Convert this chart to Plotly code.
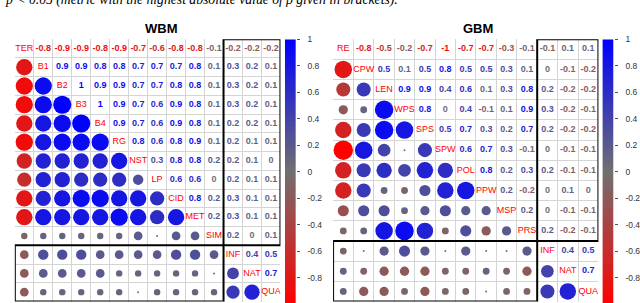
import numpy as np
import plotly.graph_objects as go
from plotly.colors import sample_colorscale

# ---------------- data ----------------
wbm_vars = ["TER", "B1", "B2", "B3", "B4", "RG", "NST", "LP", "CID", "MET", "SIM", "INF", "NAT", "QUA"]
wbm_upper = [
    [-0.8, -0.9, -0.9, -0.8, -0.9, -0.7, -0.6, -0.8, -0.8, -0.1, -0.2, -0.2, -0.2],
    [0.9, 0.9, 0.8, 0.8, 0.7, 0.7, 0.7, 0.8, 0.1, 0.3, 0.2, 0.1],
    [1, 0.9, 0.9, 0.7, 0.7, 0.8, 0.8, 0.1, 0.3, 0.2, 0.1],
    [1, 0.9, 0.7, 0.6, 0.9, 0.8, 0.1, 0.3, 0.2, 0.1],
    [0.9, 0.7, 0.6, 0.9, 0.8, 0.1, 0.2, 0.2, 0.1],
    [0.8, 0.6, 0.8, 0.9, 0.1, 0.2, 0.1, 0.1],
    [0.3, 0.8, 0.8, 0.2, 0.2, 0.1, 0],
    [0.6, 0.6, 0, 0.2, 0.1, 0.1],
    [0.8, 0.2, 0.3, 0.1, 0.1],
    [0.2, 0.3, 0.1, 0.1],
    [0.2, 0, 0.1],
    [0.4, 0.5],
    [0.7],
]

gbm_vars = ["RE", "CPW", "LEN", "WPS", "SPS", "SPW", "POL", "PPW", "MSP", "PRS", "INF", "NAT", "QUA"]
gbm_upper = [
    [-0.8, -0.5, -0.2, -0.7, -1, -0.7, -0.7, -0.3, -0.1, -0.1, 0.1, 0.1],
    [0.5, 0.1, 0.5, 0.8, 0.5, 0.5, 0.3, 0.1, 0, -0.1, -0.2],
    [0.9, 0.9, 0.4, 0.6, 0.1, 0.3, 0.8, 0.2, -0.2, -0.2],
    [0.8, 0, 0.4, -0.1, 0.1, 0.9, 0.3, -0.2, -0.1],
    [0.5, 0.7, 0.3, 0.2, 0.7, 0.2, -0.2, -0.2],
    [0.6, 0.7, 0.3, -0.1, 0, -0.1, -0.1],
    [0.8, 0.2, 0.3, 0.2, -0.1, -0.1],
    [0.2, -0.2, 0, 0.1, 0],
    [0.2, 0, -0.1, -0.1],
    [0.2, -0.2, -0.1],
    [0.4, 0.5],
    [0.7],
]

titles = ["WBM", "GBM"]
cbar_ticks = [1, 0.8, 0.6, 0.4, 0.2, 0, -0.2, -0.4, -0.6, -0.8, -1]
note = "p &lt; 0.05 (metric with the highest absolute value of ρ given in brackets)."

# ---------------- style ----------------
W, H = 640, 303
CS = [[0.0, "#FF0000"], [0.5, "#707070"], [1.0, "#0000FF"]]
GRID = "#d4d4d4"
FONT = "Liberation Sans"

panels = [
    dict(vars=wbm_vars, upper=wbm_upper, x0=15, x1=284, cb0=288.5, cb1=299.5, tx=163.5, box_split=11),
    dict(vars=gbm_vars, upper=gbm_upper, x0=337.3, x1=606, cb0=610, cb1=621.5, tx=484, box_split=10),
]
Y_TOP, Y_BOT = 34.7, 301.5


def px_x(p):
    return p / W


def px_y(p):
    return 1 - p / H


def full_matrix(upper):
    n = len(upper) + 1
    m = np.eye(n)
    for i, row in enumerate(upper):
        for k, v in enumerate(row):
            j = i + 1 + k
            m[i, j] = v
            m[j, i] = v
    return m


fig = go.Figure()
shapes = []
annotations = []

for p_idx, P in enumerate(panels):
    names = P["vars"]
    n = len(names)
    M = full_matrix(P["upper"])
    xa = "x" if p_idx == 0 else "x2"
    ya = "y" if p_idx == 0 else "y2"
    cell = min((P["x1"] - P["x0"]) / n, (Y_BOT - Y_TOP) / n)

    # lower triangle circles
    cx, cy, cv, cs = [], [], [], []
    for i in range(n):
        for j in range(i):
            v = M[i, j]
            cx.append(j)
            cy.append(i)
            cv.append(v)
            cs.append(max(0.9 * cell * np.sqrt(abs(v)) + 1.0, 2.0))
    fig.add_trace(go.Scatter(
        x=cx, y=cy, mode="markers", xaxis=xa, yaxis=ya, hoverinfo="skip",
        marker=dict(size=cs, color=cv, colorscale=CS, cmin=-1, cmax=1,
                    line=dict(width=0), opacity=1),
        showlegend=False))

    # upper triangle numbers
    tx, ty, tt, tv = [], [], [], []
    for i in range(n):
        for j in range(i + 1, n):
            v = M[i, j]
            tx.append(j)
            ty.append(i)
            tt.append("0" if v == 0 else ("%g" % v))
            tv.append(v)
    tcol = sample_colorscale(CS, [(v + 1) / 2 for v in tv])
    fig.add_trace(go.Scatter(
        x=tx, y=ty, mode="text", text=tt, xaxis=xa, yaxis=ya, hoverinfo="skip",
        textfont=dict(family=FONT, size=9, color=tcol, weight="bold"),
        showlegend=False))

    # diagonal labels
    fig.add_trace(go.Scatter(
        x=list(range(n)), y=list(range(n)), mode="text", text=names,
        xaxis=xa, yaxis=ya, hoverinfo="skip",
        textfont=dict(family=FONT, size=9, color="#FF0000"),
        showlegend=False))

    axis_x = dict(domain=[px_x(P["x0"]), px_x(P["x1"])], range=[-0.5, n - 0.5],
                  tickvals=[k - 0.5 for k in range(n + 1)], showticklabels=False,
                  showgrid=True, gridcolor=GRID, gridwidth=1, zeroline=False,
                  ticks="", fixedrange=True, showline=False)
    axis_y = dict(domain=[px_y(Y_BOT), px_y(Y_TOP)], range=[n - 0.5, -0.5],
                  tickvals=[k - 0.5 for k in range(n + 1)], showticklabels=False,
                  showgrid=True, gridcolor=GRID, gridwidth=1, zeroline=False,
                  ticks="", fixedrange=True, showline=False)
    if p_idx == 0:
        fig.update_layout(xaxis=dict(axis_x, anchor="y"), yaxis=dict(axis_y, anchor="x"))
    else:
        fig.update_layout(xaxis2=dict(axis_x, anchor="y2"), yaxis2=dict(axis_y, anchor="x2"))

    # black boxes
    s = P["box_split"]
    for (a0, a1, b0, b1) in [(s - 0.5, n - 0.5, -0.5, s - 0.5), (-0.5, s - 0.5, s - 0.5, n - 0.5)]:
        shapes.append(dict(type="rect", xref=xa, yref=ya, x0=a0, x1=a1, y0=b0, y1=b1,
                           line=dict(color="black", width=2), fillcolor="rgba(0,0,0,0)"))

    # colour bar as heatmap on its own axes
    cxa = "x3" if p_idx == 0 else "x4"
    cya = "y3" if p_idx == 0 else "y4"
    levels = np.linspace(-1, 1, 201)
    fig.add_trace(go.Heatmap(
        z=[[v] for v in levels], y=levels, x=[0], xaxis=cxa, yaxis=cya,
        colorscale=CS, zmin=-1, zmax=1, showscale=False, hoverinfo="skip"))
    per_unit = (169.5 - 35.0)
    lo = -(H - 169.5) / per_unit
    cb_x = dict(domain=[px_x(P["cb0"]), px_x(P["cb1"])], range=[-0.5, 0.5],
                showticklabels=False, showgrid=False, zeroline=False, ticks="", fixedrange=True)
    cb_y = dict(domain=[0, px_y(35.0)], range=[lo, 1.0], side="right",
                tickvals=cbar_ticks, ticktext=["%g" % t for t in cbar_ticks],
                ticks="outside", ticklen=3, tickcolor="#555555", tickwidth=1,
                tickfont=dict(family=FONT, size=8.5, color="#333333"),
                ticklabelstandoff=6,
                showgrid=False, zeroline=False, showline=False, fixedrange=True)
    if p_idx == 0:
        fig.update_layout(xaxis3=dict(cb_x, anchor="y3"), yaxis3=dict(cb_y, anchor="x3"))
    else:
        fig.update_layout(xaxis4=dict(cb_x, anchor="y4"), yaxis4=dict(cb_y, anchor="x4"))

    annotations.append(dict(text="<b>%s</b>" % titles[p_idx], x=px_x(P["tx"]), y=px_y(24),
                            xref="paper", yref="paper", showarrow=False,
                            xanchor="center", yanchor="middle",
                            font=dict(family=FONT, size=13, color="black")))

annotations.append(dict(text=note, x=px_x(405), y=px_y(-5), xref="paper", yref="paper",
                        showarrow=False, xanchor="right", yanchor="middle",
                        font=dict(family="Liberation Serif", size=13.7, color="black", style="italic")))

fig.update_layout(
    width=W, height=H, margin=dict(l=0, r=0, t=0, b=0),
    paper_bgcolor="white", plot_bgcolor="white",
    shapes=shapes, annotations=annotations, showlegend=False,
)

fig.write_html("out.html", config={"displayModeBar": False},
               post_script="document.body.style.margin='0';document.body.style.overflow='hidden';")
